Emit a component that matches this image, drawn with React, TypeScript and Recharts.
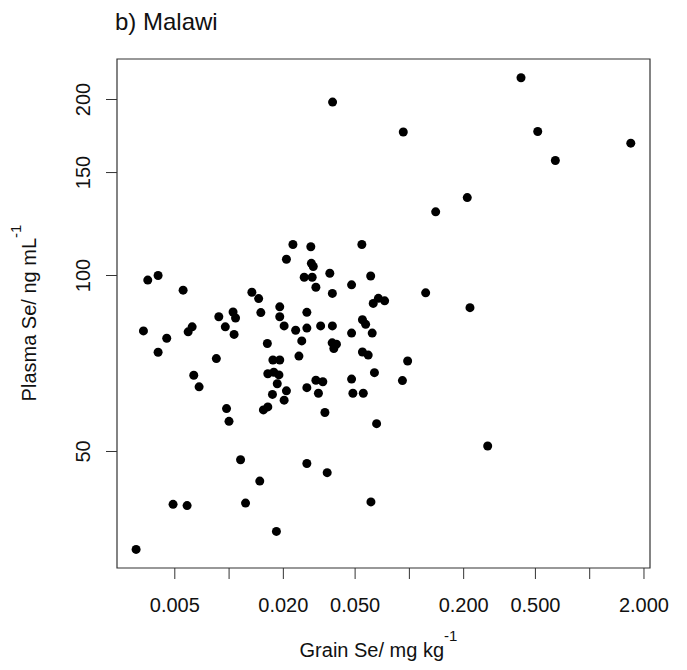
import React from "react";
import { ScatterChart, Scatter, XAxis, YAxis, ReferenceArea } from "recharts";

// grain Se (mg/kg) and plasma Se (ng/mL), one entry per household
const grainSe = [
  0.0375, 0.0925, 0.0226, 0.0284, 0.0545, 0.0208, 0.0286, 0.0293, 0.00354, 0.00404,
  0.00556, 0.0261, 0.0289, 0.0362, 0.061, 0.0303, 0.0374, 0.0478, 0.01338, 0.01459,
  0.0191, 0.063, 0.0673, 0.0729, 0.015, 0.0191, 0.00877, 0.01052, 0.01086, 0.00953,
  0.01066, 0.027, 0.027, 0.0322, 0.0374, 0.0202, 0.0234, 0.0253, 0.0244, 0.0163,
  0.0478, 0.0549, 0.0572, 0.0622, 0.0373, 0.0394, 0.0381, 0.0549, 0.0591, 0.0978,
  0.00335, 0.00451, 0.00404, 0.00593, 0.00624, 0.0085, 0.00637, 0.00682, 0.0175, 0.0191,
  0.0164, 0.0177, 0.0189, 0.0185, 0.0174, 0.0208, 0.0202, 0.0155, 0.0164, 0.00968,
  0.00999, 0.027, 0.0303, 0.0331, 0.0313, 0.034, 0.0478, 0.0486, 0.0555, 0.064,
  0.0915, 0.0658, 0.01158, 0.027, 0.035, 0.0148, 0.00489, 0.00585, 0.01234, 0.0612,
  0.0183, 0.00305, 0.416, 0.515, 1.69, 0.645, 0.2094, 0.1399, 0.1231, 0.2168,
  0.2718,
];

const plasmaSe = [
  198, 176, 113, 112, 113, 106.6, 104.9, 103.6, 98.2, 100,
  94.4, 99.3, 99.3, 100.9, 99.8, 95.5, 93.2, 96.4, 93.6, 91.3,
  88.4, 89.6, 91.4, 90.5, 86.4, 85.0, 85.0, 86.6, 84.6, 81.7,
  79.3, 86.5, 81.3, 82.0, 82.0, 82.0, 80.6, 77.3, 72.8, 76.5,
  79.7, 84.0, 82.5, 79.7, 76.7, 76.3, 75.0, 74.0, 73.1, 71.4,
  80.4, 78.1, 73.9, 80.1, 81.7, 72.1, 67.5, 64.5, 71.7, 71.7,
  67.9, 68.3, 67.6, 65.3, 62.6, 63.5, 61.2, 58.9, 59.6, 59.2,
  56.3, 64.3, 66.2, 65.8, 62.9, 58.3, 66.5, 62.9, 62.9, 68.2,
  66.1, 55.8, 48.4, 47.7, 46.0, 44.5, 40.6, 40.4, 40.8, 41.0,
  36.5, 34.0, 217.9, 176.3, 168.4, 157.3, 135.9, 128.5, 93.4, 88.1,
  51.1,
];

const xTicks = [0.005, 0.01, 0.02, 0.05, 0.1, 0.2, 0.5, 1, 2];
const xTickLabels = ["0.005", "", "0.020", "0.050", "", "0.200", "0.500", "", "2.000"];
const yTicks = [50, 100, 150, 200];

const xDomain = [0.00239, 2.16];
const yDomain = [31.6, 234.6];

const data = grainSe.map((g, i) => ({ grain: g, plasma: plasmaSe[i] }));

const font = "'Liberation Sans', Arial, sans-serif";
const ink = "#111";

const XTick = ({ x, payload }: any) => {
  const label = xTickLabels[xTicks.indexOf(payload.value)] ?? "";
  return (
    <text x={x} y={612} textAnchor="middle" fontSize={20} fontFamily={font} fill={ink}>
      {label}
    </text>
  );
};

const YTick = ({ y, payload }: any) => (
  <text
    x={90}
    y={y}
    transform={`rotate(-90 90 ${y})`}
    textAnchor="middle"
    fontSize={20}
    fontFamily={font}
    fill={ink}
  >
    {payload.value}
  </text>
);

const Dot = (props: any) => <circle cx={props.cx} cy={props.cy} r={4.5} fill="#000" />;

const App = () => {
  return (
    <div style={{ position: "absolute", left: 0, top: 0, width: 687, height: 670, background: "#fff" }}>
      <ScatterChart
        width={687}
        height={670}
        margin={{ top: 59, right: 37, bottom: 0, left: 0 }}
      >
        <XAxis
          type="number"
          dataKey="grain"
          scale="log"
          domain={xDomain}
          allowDataOverflow
          ticks={xTicks}
          interval={0}
          tick={<XTick />}
          tickSize={11}
          tickLine={{ stroke: "#333" }}
          axisLine={false}
          height={102}
        />
        <YAxis
          type="number"
          dataKey="plasma"
          scale="log"
          domain={yDomain}
          allowDataOverflow
          ticks={yTicks}
          interval={0}
          tick={<YTick />}
          tickSize={11}
          tickLine={{ stroke: "#333" }}
          axisLine={false}
          width={117}
        />
        <ReferenceArea
          x1={xDomain[0]}
          x2={xDomain[1]}
          y1={yDomain[0]}
          y2={yDomain[1]}
          fill="none"
          stroke="#333"
          strokeWidth={1.2}
          ifOverflow="visible"
        />
        <Scatter data={data} shape={<Dot />} isAnimationActive={false} />
      </ScatterChart>
      <svg
        width={687}
        height={670}
        style={{ position: "absolute", left: 0, top: 0, pointerEvents: "none" }}
      >
        <text x={115} y={30} fontSize={24} fontFamily={font} fill={ink}>
          b) Malawi
        </text>
        <text x={378.5} y={657} textAnchor="middle" fontSize={20} fontFamily={font} fill={ink}>
          Grain Se/ mg kg
          <tspan fontSize={15} dy={-16}>-1</tspan>
        </text>
        <text
          x={36}
          y={313}
          transform="rotate(-90 36 313)"
          textAnchor="middle"
          fontSize={20}
          fontFamily={font}
          fill={ink}
        >
          Plasma Se/ ng mL
          <tspan fontSize={15} dy={-15}>-1</tspan>
        </text>
      </svg>
    </div>
  );
};

export default App;
